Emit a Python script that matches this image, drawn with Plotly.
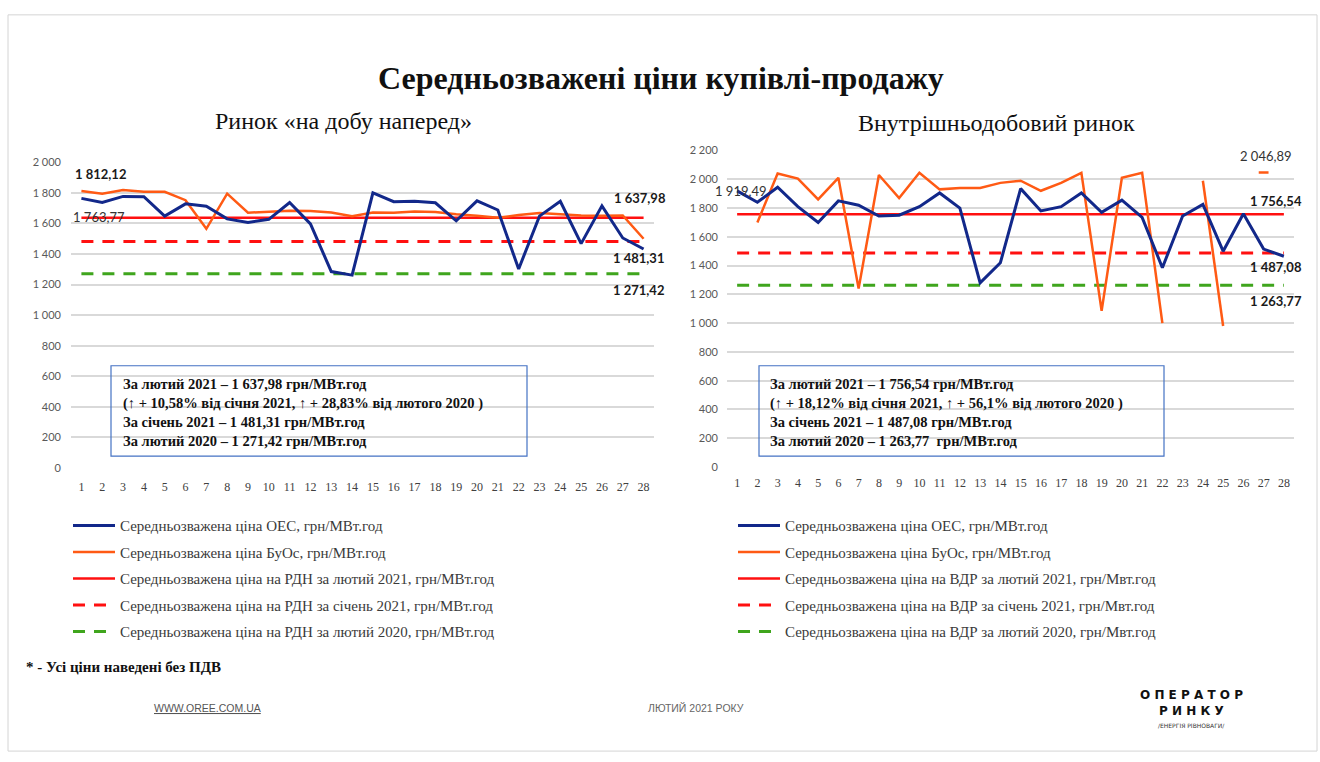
import plotly.graph_objects as go

W, H = 1320, 762

days = list(range(1, 29))

# Ринок «на добу наперед» (РДН)
rdn_oes = [1764, 1737, 1777, 1775, 1648, 1728, 1713, 1630, 1607, 1627, 1737, 1597, 1285, 1262,
           1800, 1742, 1745, 1735, 1617, 1748, 1688, 1302, 1648, 1745, 1468, 1715, 1505, 1433]
rdn_buos = [1812.12, 1795, 1818, 1807, 1807, 1752, 1565, 1795, 1670, 1677, 1683, 1682, 1672, 1647,
            1672, 1670, 1678, 1675, 1660, 1650, 1637, 1655, 1668, 1660, 1652, 1650, 1652, 1500]
rdn_feb21 = 1637.98
rdn_jan21 = 1481.31
rdn_feb20 = 1271.42

# Внутрішньодобовий ринок (ВДР)
vdr_oes = [1919.49, 1840, 1945, 1810, 1700, 1850, 1820, 1745, 1750, 1810, 1905, 1800, 1280, 1420,
           1935, 1780, 1810, 1905, 1770, 1855, 1735, 1385, 1745, 1825, 1500, 1760, 1515, 1465]
vdr_buos = [None, 1700, 2040, 2005, 1860, 2010, 1240, 2030, 1870, 2045, 1930, 1940, 1940, 1975,
            1990, 1920, 1975, 2045, 1085, 2010, 2045, 1000, None, 1990, 980, None, 2046.89, None]
vdr_feb21 = 1756.54
vdr_jan21 = 1487.08
vdr_feb20 = 1263.77

left_yticks = [0, 200, 400, 600, 800, 1000, 1200, 1400, 1600, 1800, 2000]
left_yticktext = ["0", "200", "400", "600", "800", "1 000", "1 200", "1 400", "1 600", "1 800", "2 000"]
right_yticks = [0, 200, 400, 600, 800, 1000, 1200, 1400, 1600, 1800, 2000, 2200]
right_yticktext = ["0", "200", "400", "600", "800", "1 000", "1 200", "1 400", "1 600", "1 800", "2 000", "2 200"]

legend_left = [
    "Середньозважена ціна ОЕС, грн/МВт.год",
    "Середньозважена ціна БуОс, грн/МВт.год",
    "Середньозважена ціна на РДН за лютий 2021, грн/МВт.год",
    "Середньозважена ціна на РДН за січень 2021, грн/МВт.год",
    "Середньозважена ціна на РДН за лютий 2020, грн/МВт.год",
]
legend_right = [
    "Середньозважена ціна ОЕС, грн/МВт.год",
    "Середньозважена ціна БуОс, грн/МВт.год",
    "Середньозважена ціна на ВДР за лютий 2021, грн/Мвт.год",
    "Середньозважена ціна на ВДР за січень 2021, грн/Мвт.год",
    "Середньозважена ціна на ВДР за лютий 2020, грн/Мвт.год",
]

box_left = ("За лютий 2021 – 1 637,98 грн/МВт.год<br>"
            "(↑ + 10,58% від січня 2021, ↑ + 28,83% від лютого 2020 )<br>"
            "За січень 2021 – 1 481,31 грн/МВт.год<br>"
            "За лютий 2020 – 1 271,42 грн/МВт.год")
box_right = ("За лютий 2021 – 1 756,54 грн/МВт.год<br>"
             "(↑ + 18,12% від січня 2021, ↑ + 56,1% від лютого 2020 )<br>"
             "За січень 2021 – 1 487,08 грн/МВт.год<br>"
             "За лютий 2020 – 1 263,77  грн/МВт.год")

BLUE = "#12288a"
ORANGE = "#ff5a14"
RED = "#ff1010"
GREEN = "#3fa51d"
SERIF = "Liberation Serif, Times New Roman, serif"
SANS = "Lato, Liberation Sans, sans-serif"


def px_x(p):
    return p / W


def px_y(p):
    return 1 - p / H


fig = go.Figure()


def add_panel(xa, ya, legend, oes, buos, feb21, jan21, feb20, names, grp):
    n = len(days)
    specs = [
        (oes, names[0], dict(color=BLUE, width=3)),
        (buos, names[1], dict(color=ORANGE, width=2.5)),
        ([feb21] * n, names[2], dict(color=RED, width=2.5)),
        ([jan21] * n, names[3], dict(color=RED, width=3, dash="12px,9px")),
        ([feb20] * n, names[4], dict(color=GREEN, width=3, dash="12px,9px")),
    ]
    order = [2, 3, 4, 1, 0]
    for i in order:
        vals, name, line = specs[i]
        fig.add_trace(go.Scatter(
            x=days, y=vals, mode="lines", name=name, line=line,
            xaxis=xa, yaxis=ya, legend=legend, legendgroup=f"{grp}{i}",
            legendrank=i + 1, connectgaps=False, hoverinfo="skip",
        ))
    iso_x, iso_y = [], []
    for k, v in enumerate(buos):
        if v is None:
            continue
        prev_none = k == 0 or buos[k - 1] is None
        next_none = k == n - 1 or buos[k + 1] is None
        if prev_none and next_none:
            iso_x.append(days[k])
            iso_y.append(v)
    if iso_x:
        fig.add_trace(go.Scatter(
            x=iso_x, y=iso_y, mode="markers", showlegend=False, xaxis=xa, yaxis=ya,
            marker=dict(symbol="line-ew", size=7, line=dict(color=ORANGE, width=2.5)),
            hoverinfo="skip",
        ))


add_panel("x", "y", "legend", rdn_oes, rdn_buos, rdn_feb21, rdn_jan21, rdn_feb20, legend_left, "L")
add_panel("x2", "y2", "legend2", vdr_oes, vdr_buos, vdr_feb21, vdr_jan21, vdr_feb20, legend_right, "R")

axis_x_common = dict(range=[0.5, 28.5], tickvals=days, ticktext=[str(d) for d in days],
                     showgrid=False, zeroline=False, showline=False, ticks="",
                     tickfont=dict(family=SERIF, size=12, color="#404040"), fixedrange=True)
grid_col = "#d9d9d9"
legend_font = dict(family=SERIF, size=15, color="#3a3a3a")

fig.update_layout(
    width=W, height=H, autosize=False,
    margin=dict(l=0, r=0, t=0, b=0),
    paper_bgcolor="white", plot_bgcolor="white",
    showlegend=True,
    xaxis=dict(domain=[px_x(71), px_x(654)], anchor="y", ticklabelstandoff=10, **axis_x_common),
    yaxis=dict(domain=[px_y(469), px_y(158)], anchor="x", range=[0, 2000],
               tickvals=left_yticks, ticktext=left_yticktext, showgrid=True,
               gridcolor=grid_col, gridwidth=1.5, zeroline=False, showline=False, ticks="",
               ticklabelstandoff=9,
               tickfont=dict(family=SANS, size=11, color="#595959"), fixedrange=True),
    xaxis2=dict(domain=[px_x(727), px_x(1294)], anchor="y2", ticklabelstandoff=7, **axis_x_common),
    yaxis2=dict(domain=[px_y(468), px_y(146)], anchor="x2", range=[0, 2200],
                tickvals=right_yticks, ticktext=right_yticktext, showgrid=True,
                gridcolor=grid_col, gridwidth=1.5, zeroline=False, showline=False, ticks="",
                ticklabelstandoff=8,
                tickfont=dict(family=SANS, size=11, color="#595959"), fixedrange=True),
    legend=dict(x=px_x(68), y=px_y(511), xanchor="left", yanchor="top", itemwidth=42,
                traceorder="grouped", tracegroupgap=4, bgcolor="rgba(0,0,0,0)",
                font=legend_font),
    legend2=dict(x=px_x(733), y=px_y(511), xanchor="left", yanchor="top", itemwidth=42,
                 traceorder="grouped", tracegroupgap=4, bgcolor="rgba(0,0,0,0)",
                 font=legend_font),
)

ann = []


def paper_text(text, x, y, font, xanchor="center", yanchor="middle", align="center"):
    ann.append(dict(text=text, x=px_x(x), y=px_y(y), xref="paper", yref="paper",
                    xanchor=xanchor, yanchor=yanchor, align=align, showarrow=False, font=font))


paper_text("<b>Середньозважені ціни купівлі-продажу</b>", 661, 72,
           dict(family=SERIF, size=32, color="#111111"))
paper_text("Ринок «на добу наперед»", 343, 116, dict(family=SERIF, size=24, color="#111111"))
paper_text("Внутрішньодобовий ринок", 996, 118, dict(family=SERIF, size=24, color="#111111"))

lbl_font_b = dict(family=SANS, size=13, color="#1a1a1a")
lbl_font_n = dict(family=SANS, size=13, color="#333333")


def fmt(v):
    s = f"{v:,.2f}"
    return s.replace(",", " ").replace(".", ",")


def data_label(text, x, y, xr, yr, xanchor, yanchor, xshift, yshift, font):
    ann.append(dict(text=text, x=x, y=y, xref=xr, yref=yr, xanchor=xanchor, yanchor=yanchor,
                    xshift=xshift, yshift=yshift, showarrow=False, font=font))


# left data labels
data_label(f"<b>{fmt(rdn_buos[0])}</b>", days[0], rdn_buos[0], "x", "y", "left", "bottom", -8, 7, lbl_font_b)
data_label(fmt(1763.77), days[0], rdn_oes[0], "x", "y", "left", "top", -10, -9, lbl_font_n)
data_label(f"<b>{fmt(rdn_feb21)}</b>", days[-1], rdn_feb21, "x", "y", "center", "bottom", -4, 10, lbl_font_b)
data_label(f"<b>{fmt(rdn_jan21)}</b>", days[-1], rdn_jan21, "x", "y", "center", "top", -5, -6, lbl_font_b)
data_label(f"<b>{fmt(rdn_feb20)}</b>", days[-1], rdn_feb20, "x", "y", "center", "top", -5, -6, lbl_font_b)
# right data labels
data_label(fmt(vdr_oes[0]), days[0], vdr_oes[0], "x2", "y2", "center", "middle", 4, 0, lbl_font_n)
data_label(fmt(vdr_buos[26]), days[26], vdr_buos[26], "x2", "y2", "center", "bottom", 2, 7, lbl_font_n)
data_label(f"<b>{fmt(vdr_feb21)}</b>", days[-1], vdr_feb21, "x2", "y2", "center", "bottom", -8, 3, lbl_font_b)
data_label(f"<b>{fmt(vdr_jan21)}</b>", days[-1], vdr_jan21, "x2", "y2", "center", "top", -8, -4, lbl_font_b)
data_label(f"<b>{fmt(vdr_feb20)}</b>", days[-1], vdr_feb20, "x2", "y2", "center", "top", -8, -6, lbl_font_b)

# info boxes
box_font = dict(family=SERIF, size=14.5, color="#111111")
paper_text(f"<b>{box_left}</b>", 121, 373, box_font, xanchor="left", yanchor="top", align="left")
paper_text(f"<b>{box_right}</b>", 768, 373, box_font, xanchor="left", yanchor="top", align="left")

# footer
paper_text("<b>* - Усі ціни наведені без ПДВ</b>", 24, 671,
           dict(family=SERIF, size=15, color="#111111"), xanchor="left")
NARROW = "Liberation Sans Narrow, Liberation Sans, sans-serif"
paper_text("<u>WWW.OREE.COM.UA</u>", 208, 713, dict(family=NARROW, size=10.5, color="#555555"))
paper_text("ЛЮТИЙ 2021 РОКУ", 696, 713, dict(family=NARROW, size=10.5, color="#666666"))
paper_text("<b>О П Е Р А Т О Р</b>", 1191, 700, dict(family="DejaVu Sans, sans-serif", size=12, color="#111111"))
paper_text("<b>Р И Н К У</b>", 1191, 716, dict(family="DejaVu Sans, sans-serif", size=12, color="#111111"))
paper_text("/ЕНЕРГІЯ РІВНОВАГИ/", 1191, 731, dict(family="DejaVu Sans, sans-serif", size=6, color="#333333"))

fig.update_layout(annotations=ann)

shapes = [
    dict(type="rect", xref="paper", yref="paper", x0=px_x(8), x1=px_x(1317), y0=px_y(757), y1=px_y(8),
         line=dict(color="#d4d4d4", width=1), fillcolor="rgba(0,0,0,0)", layer="below"),
    dict(type="rect", xref="paper", yref="paper", x0=px_x(111), x1=px_x(527), y0=px_y(457), y1=px_y(365),
         line=dict(color="#4472c4", width=1.2), fillcolor="rgba(255,255,255,0)", layer="above"),
    dict(type="rect", xref="paper", yref="paper", x0=px_x(759), x1=px_x(1164), y0=px_y(457), y1=px_y(365),
         line=dict(color="#4472c4", width=1.2), fillcolor="rgba(255,255,255,0)", layer="above"),
]
fig.update_layout(shapes=shapes)

fig.write_html("out.html", post_script="document.body.style.margin='0';", config={"displayModeBar": False})
